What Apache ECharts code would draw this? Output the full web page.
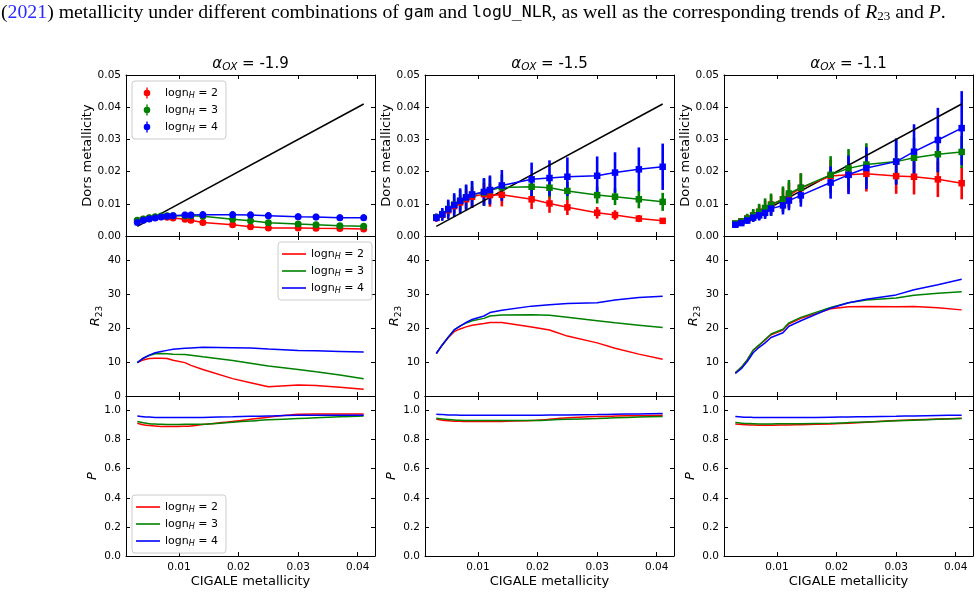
<!DOCTYPE html>
<html>
<head>
<meta charset="utf-8">
<script src="https://cdn.jsdelivr.net/npm/echarts@6/dist/echarts.min.js"></script>
<style>
  html, body { margin: 0; padding: 0; background: #fff; }
  #chart { width: 980px; height: 594px; }
</style>
</head>
<body>
<div id="chart"></div>
<script>
// CIGALE metallicity grid (x of every panel)
const xMetal = [0.003, 0.004, 0.005, 0.006, 0.007, 0.008, 0.009, 0.011, 0.012, 0.014, 0.019, 0.022, 0.025, 0.030, 0.033, 0.037, 0.041]
const alphaOX = ['-1.9', '-1.5', '-1.1']
const lognH = [2, 3, 4]
const xTicks = [0.01, 0.02, 0.03, 0.04]
const yTicksDors = [0, 0.01, 0.02, 0.03, 0.04, 0.05]
const yTicksR23 = [0, 10, 20, 30, 40]
const yTicksP = [0, 0.2, 0.4, 0.6, 0.8, 1.0]

// Dors metallicity, alpha_OX = -1.9
const dors_a19_n2 = [0.0048, 0.0052, 0.0056, 0.0058, 0.0060, 0.0058, 0.0056, 0.0052, 0.0049, 0.0042, 0.0035, 0.0029, 0.0025, 0.0025, 0.0024, 0.0023, 0.0022]
const dors_a19_n3 = [0.0049, 0.0053, 0.0057, 0.0060, 0.0062, 0.0063, 0.0063, 0.0063, 0.0063, 0.0061, 0.0052, 0.0047, 0.0041, 0.0037, 0.0035, 0.0032, 0.0030]
const dors_a19_n4 = [0.0042, 0.0049, 0.0053, 0.0056, 0.0059, 0.0061, 0.0063, 0.0065, 0.0065, 0.0066, 0.0066, 0.0065, 0.0063, 0.0060, 0.0059, 0.0057, 0.0057]
const err_a19_n2 = [0.0005, 0.0005, 0.0006, 0.0006, 0.0007, 0.0007, 0.0007, 0.0007, 0.0007, 0.0007, 0.0007, 0.0006, 0.0005, 0.0005, 0.0005, 0.0005, 0.0005]
const err_a19_n3 = [0.0006, 0.0006, 0.0007, 0.0007, 0.0008, 0.0008, 0.0008, 0.0008, 0.0008, 0.0008, 0.0008, 0.0007, 0.0007, 0.0006, 0.0006, 0.0006, 0.0006]
const err_a19_n4 = [0.0006, 0.0007, 0.0007, 0.0008, 0.0008, 0.0009, 0.0009, 0.0010, 0.0010, 0.0011, 0.0011, 0.0011, 0.0011, 0.0010, 0.0010, 0.0010, 0.0010]

// Dors metallicity, alpha_OX = -1.5
const dors_a15_n2 = [0.0056, 0.0066, 0.0080, 0.0093, 0.0104, 0.0114, 0.0122, 0.0130, 0.0127, 0.0128, 0.0114, 0.0101, 0.0089, 0.0072, 0.0065, 0.0054, 0.0047]
const dors_a15_n3 = [0.0058, 0.0068, 0.0084, 0.0097, 0.0109, 0.0120, 0.0128, 0.0135, 0.0142, 0.0151, 0.0153, 0.0150, 0.0140, 0.0127, 0.0122, 0.0114, 0.0106]
const dors_a15_n4 = [0.0057, 0.0067, 0.0083, 0.0096, 0.0109, 0.0120, 0.0129, 0.0137, 0.0143, 0.0157, 0.0176, 0.0180, 0.0184, 0.0187, 0.0197, 0.0207, 0.0215]
const err_a15_n2 = [0.0008, 0.0012, 0.0016, 0.0020, 0.0024, 0.0028, 0.0030, 0.0034, 0.0036, 0.0036, 0.0030, 0.0029, 0.0024, 0.0018, 0.0015, 0.0011, 0.0008]
const err_a15_n3 = [0.0010, 0.0016, 0.0024, 0.0030, 0.0034, 0.0037, 0.0040, 0.0042, 0.0042, 0.0040, 0.0034, 0.0030, 0.0028, 0.0026, 0.0026, 0.0028, 0.0028]
const err_a15_n4 = [0.0013, 0.0020, 0.0030, 0.0037, 0.0039, 0.0040, 0.0042, 0.0043, 0.0045, 0.0048, 0.0052, 0.0055, 0.0060, 0.0060, 0.0063, 0.0068, 0.0072]

// Dors metallicity, alpha_OX = -1.1
const dors_a11_n2 = [0.0038, 0.0045, 0.0054, 0.0064, 0.0075, 0.0085, 0.0097, 0.0114, 0.0126, 0.0149, 0.0186, 0.0190, 0.0193, 0.0186, 0.0184, 0.0176, 0.0164]
const dors_a11_n3 = [0.0039, 0.0045, 0.0054, 0.0064, 0.0075, 0.0087, 0.0097, 0.0114, 0.0132, 0.0150, 0.0190, 0.0210, 0.0222, 0.0231, 0.0243, 0.0254, 0.0261]
const dors_a11_n4 = [0.0035, 0.0040, 0.0048, 0.0057, 0.0064, 0.0072, 0.0085, 0.0095, 0.0110, 0.0126, 0.0166, 0.0190, 0.0211, 0.0231, 0.0262, 0.0298, 0.0335]
const err_a11_n2 = [0.0005, 0.0009, 0.0013, 0.0017, 0.0021, 0.0025, 0.0030, 0.0035, 0.0040, 0.0045, 0.0050, 0.0055, 0.0055, 0.0055, 0.0055, 0.0055, 0.0050]
const err_a11_n3 = [0.0005, 0.0010, 0.0015, 0.0020, 0.0025, 0.0030, 0.0035, 0.0040, 0.0042, 0.0045, 0.0058, 0.0060, 0.0066, 0.0070, 0.0062, 0.0056, 0.0050]
const err_a11_n4 = [0.0005, 0.0007, 0.0010, 0.0013, 0.0016, 0.0019, 0.0022, 0.0028, 0.0030, 0.0035, 0.0050, 0.0060, 0.0065, 0.0072, 0.0085, 0.0100, 0.0115]

// R23
const r23_a19_n2 = [9.8, 10.6, 11.0, 11.1, 11.1, 11.0, 10.5, 9.8, 9.0, 7.8, 5.1, 3.9, 2.7, 3.2, 3.1, 2.6, 2.0]
const r23_a19_n3 = [9.8, 11.1, 11.9, 12.4, 12.5, 12.4, 12.3, 12.2, 12.0, 11.5, 10.4, 9.6, 8.8, 7.8, 7.1, 6.2, 5.1]
const r23_a19_n4 = [9.8, 11.1, 12.0, 12.7, 13.1, 13.4, 13.7, 14.0, 14.1, 14.3, 14.2, 14.1, 13.8, 13.4, 13.3, 13.1, 12.9]
const r23_a15_n2 = [12.5, 15.0, 17.1, 18.9, 19.7, 20.3, 20.8, 21.3, 21.6, 21.6, 20.3, 19.4, 17.6, 15.6, 14.0, 12.3, 10.8]
const r23_a15_n3 = [12.5, 15.0, 17.3, 19.4, 20.6, 21.4, 22.1, 22.8, 23.5, 23.8, 23.9, 23.7, 23.1, 22.1, 21.5, 20.8, 20.1]
const r23_a15_n4 = [12.5, 15.0, 17.3, 19.4, 20.5, 21.6, 22.5, 23.5, 24.5, 25.2, 26.4, 26.8, 27.2, 27.4, 28.2, 28.9, 29.3]
const r23_a11_n2 = [6.8, 8.4, 10.6, 13.4, 14.9, 16.5, 18.0, 19.4, 21.2, 22.8, 25.6, 26.2, 26.3, 26.2, 26.3, 25.9, 25.3]
const r23_a11_n3 = [6.8, 8.4, 10.6, 13.5, 15.0, 16.6, 18.2, 19.6, 21.5, 23.1, 26.0, 27.4, 28.2, 28.8, 29.6, 30.2, 30.6]
const r23_a11_n4 = [6.6, 8.0, 10.1, 12.7, 14.3, 15.6, 17.2, 18.6, 20.5, 22.1, 25.8, 27.4, 28.4, 29.7, 31.2, 32.7, 34.3]

// P
const p_a19_n2 = [0.913, 0.903, 0.897, 0.893, 0.891, 0.890, 0.890, 0.892, 0.894, 0.904, 0.924, 0.940, 0.954, 0.975, 0.977, 0.977, 0.977]
const p_a19_n3 = [0.924, 0.916, 0.910, 0.907, 0.905, 0.904, 0.904, 0.905, 0.905, 0.906, 0.920, 0.928, 0.936, 0.945, 0.950, 0.957, 0.963]
const p_a19_n4 = [0.963, 0.958, 0.955, 0.953, 0.952, 0.952, 0.952, 0.952, 0.952, 0.953, 0.957, 0.960, 0.963, 0.968, 0.968, 0.968, 0.968]
const p_a15_n2 = [0.940, 0.934, 0.930, 0.927, 0.926, 0.925, 0.924, 0.924, 0.924, 0.925, 0.931, 0.940, 0.950, 0.959, 0.962, 0.965, 0.968]
const p_a15_n3 = [0.947, 0.942, 0.938, 0.935, 0.933, 0.932, 0.931, 0.931, 0.931, 0.931, 0.931, 0.935, 0.940, 0.945, 0.950, 0.955, 0.959]
const p_a15_n4 = [0.975, 0.972, 0.970, 0.969, 0.968, 0.968, 0.968, 0.968, 0.968, 0.968, 0.968, 0.969, 0.970, 0.972, 0.974, 0.977, 0.979]
const p_a11_n2 = [0.908, 0.904, 0.902, 0.900, 0.899, 0.899, 0.899, 0.900, 0.901, 0.903, 0.908, 0.913, 0.920, 0.931, 0.936, 0.942, 0.947]
const p_a11_n3 = [0.917, 0.913, 0.911, 0.909, 0.908, 0.908, 0.908, 0.909, 0.909, 0.910, 0.913, 0.917, 0.922, 0.929, 0.934, 0.940, 0.945]
const p_a11_n4 = [0.959, 0.956, 0.954, 0.953, 0.952, 0.952, 0.952, 0.952, 0.952, 0.952, 0.954, 0.956, 0.958, 0.961, 0.963, 0.966, 0.968]

const dorsAll = [[dors_a19_n2, dors_a19_n3, dors_a19_n4], [dors_a15_n2, dors_a15_n3, dors_a15_n4], [dors_a11_n2, dors_a11_n3, dors_a11_n4]]
const errAll = [[err_a19_n2, err_a19_n3, err_a19_n4], [err_a15_n2, err_a15_n3, err_a15_n4], [err_a11_n2, err_a11_n3, err_a11_n4]]
const r23All = [[r23_a19_n2, r23_a19_n3, r23_a19_n4], [r23_a15_n2, r23_a15_n3, r23_a15_n4], [r23_a11_n2, r23_a11_n3, r23_a11_n4]]
const pAll = [[p_a19_n2, p_a19_n3, p_a19_n4], [p_a15_n2, p_a15_n3, p_a15_n4], [p_a11_n2, p_a11_n3, p_a11_n4]]

const colors = ['#ff0000', '#008000', '#0000ff']
const FONT = 'DejaVu Sans'
const colLeft = [126, 425, 724]
const colWidth = 249
const rowTop = [75, 236, 396]
const rowHeight = [161, 160, 160]
const xMin = 0.0011
const xMax = 0.0429

const rows = [
  { min: 0, max: 0.05, ticks: yTicksDors, fmt: v => v.toFixed(2), name: 'Dors metallicity', gap: 32 },
  { min: 0, max: 47, ticks: yTicksR23, fmt: v => String(v), name: '{i|R}{s|23}', gap: 20 },
  { min: 0, max: 1.1, ticks: yTicksP, fmt: v => v.toFixed(1), name: '{i|P}', gap: 27 }
]

const nameRich = {
  i: { fontStyle: 'italic', fontSize: 13, fontFamily: FONT, color: '#000' },
  s: { fontSize: 9, fontFamily: FONT, color: '#000', padding: [7, 0, 0, 0] }
}

const grids = []
const xAxes = []
const yAxes = []
for (let r = 0; r < 3; r++) {
  for (let c = 0; c < 3; c++) {
    const gi = r * 3 + c
    grids.push({ left: colLeft[c], top: rowTop[r], width: colWidth, height: rowHeight[r] })
    const tick = { show: true, inside: true, length: 4, lineStyle: { color: '#000', width: 1 } }
    const line = { show: true, onZero: false, lineStyle: { color: '#000', width: 1 } }
    xAxes.push({
      gridIndex: gi, type: 'value', min: xMin, max: xMax, position: 'bottom',
      axisLine: line, splitLine: { show: false },
      axisTick: Object.assign({ customValues: xTicks }, tick),
      axisLabel: {
        show: r === 2, customValues: xTicks, formatter: v => v.toFixed(2),
        fontFamily: FONT, fontSize: 10.5, color: '#000', margin: 6
      },
      name: r === 2 ? 'CIGALE metallicity' : '',
      nameLocation: 'middle', nameGap: 19,
      nameTextStyle: { fontFamily: FONT, fontSize: 13, color: '#000' }
    })
    xAxes.push({
      gridIndex: gi, type: 'value', min: xMin, max: xMax, position: 'top',
      axisLine: line, splitLine: { show: false },
      axisTick: Object.assign({ customValues: xTicks }, tick),
      axisLabel: { show: false }
    })
    const rw = rows[r]
    yAxes.push({
      gridIndex: gi, type: 'value', min: rw.min, max: rw.max, position: 'left',
      axisLine: line, splitLine: { show: false },
      axisTick: Object.assign({ customValues: rw.ticks }, tick),
      axisLabel: {
        customValues: rw.ticks, formatter: rw.fmt,
        fontFamily: FONT, fontSize: 10.5, color: '#000', margin: 5
      },
      name: rw.name, nameLocation: 'middle', nameGap: rw.gap, nameRotate: 90,
      nameTextStyle: { fontFamily: FONT, fontSize: 13, color: '#000', rich: nameRich }
    })
    yAxes.push({
      gridIndex: gi, type: 'value', min: rw.min, max: rw.max, position: 'right',
      axisLine: line, splitLine: { show: false },
      axisTick: Object.assign({ customValues: rw.ticks }, tick),
      axisLabel: { show: false }
    })
  }
}

function pairs(ys) {
  return xMetal.map((x, k) => [x, ys[k]])
}

// vertical error bars, drawn as thin filled rects
function errorBars(gi, ys, es, color) {
  return {
    type: 'custom', xAxisIndex: gi * 2, yAxisIndex: gi * 2, silent: true, animation: false,
    data: xMetal.map((x, k) => [x, ys[k] - es[k], ys[k] + es[k]]),
    encode: { x: 0, y: [1, 2] },
    renderItem(params, api) {
      const lo = api.coord([api.value(0), api.value(1)])
      const hi = api.coord([api.value(0), api.value(2)])
      return {
        type: 'rect',
        shape: { x: lo[0] - 1.3, y: hi[1], width: 2.6, height: lo[1] - hi[1] },
        style: { fill: color }
      }
    }
  }
}

const series = []
for (let c = 0; c < 3; c++) {
  // one-to-one line
  series.push({
    type: 'line', xAxisIndex: c * 2, yAxisIndex: c * 2, silent: true, animation: false,
    data: [[xMetal[0], xMetal[0]], [xMetal[16], xMetal[16]]],
    symbol: 'none', lineStyle: { color: '#000', width: 1.5 }
  })
  for (let k = 0; k < 3; k++) {
    series.push(errorBars(c, dorsAll[c][k], errAll[c][k], colors[k]))
    series.push({
      name: 'top' + lognH[k], type: 'line', xAxisIndex: c * 2, yAxisIndex: c * 2, animation: false,
      data: pairs(dorsAll[c][k]), showAllSymbol: true,
      symbol: c === 0 ? 'circle' : 'rect', symbolSize: c === 0 ? 7 : 6.5,
      itemStyle: { color: colors[k] }, lineStyle: { color: colors[k], width: 1.5 }
    })
  }
  for (let k = 0; k < 3; k++) {
    const gi = 3 + c
    series.push({
      name: 'mid' + lognH[k], type: 'line', xAxisIndex: gi * 2, yAxisIndex: gi * 2, animation: false,
      data: pairs(r23All[c][k]), symbol: 'none',
      itemStyle: { color: colors[k] }, lineStyle: { color: colors[k], width: 1.5 }
    })
  }
  for (let k = 0; k < 3; k++) {
    const gi = 6 + c
    series.push({
      name: 'bot' + lognH[k], type: 'line', xAxisIndex: gi * 2, yAxisIndex: gi * 2, animation: false,
      data: pairs(pAll[c][k]), symbol: 'none', smooth: 0.3,
      itemStyle: { color: colors[k] }, lineStyle: { color: colors[k], width: 1.5 }
    })
  }
}

const legendRich = {
  a: { fontFamily: FONT, fontSize: 11, color: '#000' },
  s: { fontFamily: FONT, fontSize: 8, fontStyle: 'italic', color: '#000', padding: [6, 0, 0, 0] }
}
const legendFmt = name => '{a|logn}{s|H}{a| = ' + name.slice(-1) + '}'
const ebIcon = 'path://M0,5.5 L0.01,5.5 L0,5.51 Z M24,5.5 L23.99,5.5 L24,5.51 Z ' +
  'M11.3,0 L11.3,11 L12.7,11 L12.7,0 Z M8.7,5.5 A3.3,3.3 0 1,0 15.3,5.5 A3.3,3.3 0 1,0 8.7,5.5 Z'
const legendBase = {
  orient: 'vertical', backgroundColor: 'rgba(255,255,255,0.85)', borderColor: '#cccccc',
  borderWidth: 1, borderRadius: 3, itemGap: 3, selectedMode: false,
  textStyle: { fontFamily: FONT, fontSize: 11, color: '#000', lineHeight: 14, rich: legendRich },
  formatter: legendFmt
}
const legends = [
  Object.assign({}, legendBase, {
    left: 132, top: 81, padding: [5, 8, 5, 3], itemWidth: 26, itemHeight: 11,
    data: lognH.map(n => ({ name: 'top' + n, icon: ebIcon }))
  }),
  Object.assign({}, legendBase, {
    left: 278, top: 242, padding: [5, 8, 5, 4], itemWidth: 24, itemHeight: 1.6,
    data: lognH.map(n => ({ name: 'mid' + n, icon: 'rect' }))
  }),
  Object.assign({}, legendBase, {
    left: 132, top: 495, padding: [5, 8, 5, 4], itemWidth: 24, itemHeight: 1.6,
    data: lognH.map(n => ({ name: 'bot' + n, icon: 'rect' }))
  })
]

const titleRich = {
  i: { fontFamily: FONT, fontSize: 15, fontStyle: 'italic', fill: '#000' },
  s: { fontFamily: FONT, fontSize: 10.5, fontStyle: 'italic', fill: '#000', padding: [6, 0, 0, 0] },
  n: { fontFamily: FONT, fontSize: 15, fill: '#000' }
}
const graphics = alphaOX.map((a, c) => ({
  type: 'text', x: colLeft[c] + colWidth / 2, y: 64,
  style: { text: '{i|α}{s|OX}{n| = ' + a + '}', rich: titleRich, align: 'center', verticalAlign: 'middle' }
}))
const capFont = 'Liberation Serif'
graphics.push({
  type: 'text', x: 1, y: 13,
  style: {
    text: '{n|(}{b|2021}{n|) metallicity under different combinations of }{m|gam}{n| and }{m|logU_NLR}' +
      '{n|, as well as the corresponding trends of }{i|R}{s|23}{n| and }{i|P}{n|.}',
    verticalAlign: 'middle',
    rich: {
      n: { fontFamily: capFont, fontSize: 19.8, fill: '#000' },
      b: { fontFamily: capFont, fontSize: 19.8, fill: '#2a2aff' },
      m: { fontFamily: 'DejaVu Sans Mono', fontSize: 16.5, fill: '#000' },
      i: { fontFamily: capFont, fontSize: 19.8, fontStyle: 'italic', fill: '#000' },
      s: { fontFamily: capFont, fontSize: 13, fill: '#000', padding: [8, 0, 0, 0] }
    }
  }
})

const chart = echarts.init(document.getElementById('chart'))
chart.setOption({
  backgroundColor: '#fff',
  animation: false,
  grid: grids,
  xAxis: xAxes,
  yAxis: yAxes,
  legend: legends,
  graphic: graphics,
  series: series
})
</script>
</body>
</html>
